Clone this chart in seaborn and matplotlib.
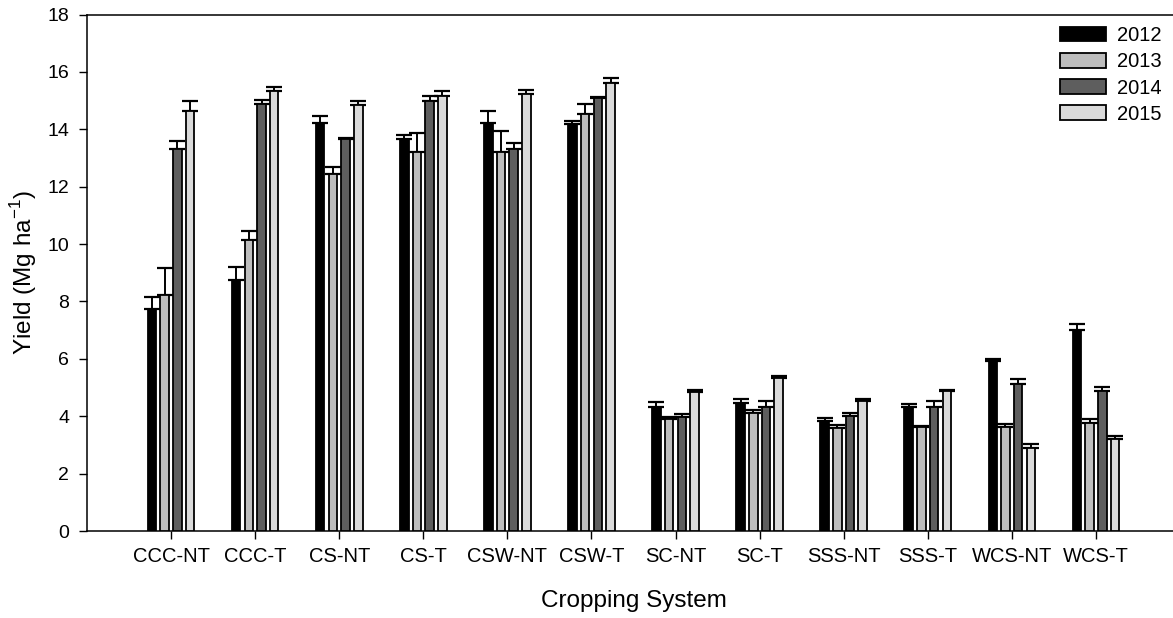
import numpy as np
import pandas as pd
import matplotlib
matplotlib.use("Agg")
import matplotlib.pyplot as plt
import seaborn as sns

categories = ["CCC-NT", "CCC-T", "CS-NT", "CS-T", "CSW-NT", "CSW-T",
              "SC-NT", "SC-T", "SSS-NT", "SSS-T", "WCS-NT", "WCS-T"]
years = ["2012", "2013", "2014", "2015"]

yield_2012 = [7.75, 8.76, 14.23, 13.65, 14.23, 14.20, 4.32, 4.45, 3.85, 4.32, 5.94, 7.00]
yield_2013 = [8.21, 10.14, 12.45, 13.22, 13.22, 14.53, 3.92, 4.10, 3.60, 3.62, 3.62, 3.77]
yield_2014 = [13.30, 14.88, 13.65, 15.00, 13.32, 15.09, 3.97, 4.31, 4.02, 4.32, 5.14, 4.87]
yield_2015 = [14.62, 15.32, 14.83, 15.15, 15.23, 15.62, 4.83, 5.32, 4.52, 4.87, 2.90, 3.20]

err_2012 = [0.40, 0.44, 0.25, 0.16, 0.39, 0.09, 0.17, 0.15, 0.08, 0.11, 0.07, 0.23]
err_2013 = [0.97, 0.32, 0.23, 0.66, 0.71, 0.35, 0.07, 0.11, 0.10, 0.04, 0.12, 0.12]
err_2014 = [0.29, 0.14, 0.04, 0.16, 0.20, 0.03, 0.10, 0.21, 0.10, 0.21, 0.15, 0.14]
err_2015 = [0.35, 0.14, 0.14, 0.17, 0.14, 0.18, 0.08, 0.09, 0.09, 0.06, 0.12, 0.12]

colors = ["#000000", "#bdbdbd", "#5e5e5e", "#dadada"]

values = [yield_2012, yield_2013, yield_2014, yield_2015]
errors = [err_2012, err_2013, err_2014, err_2015]

df = pd.DataFrame({
    "Cropping System": np.repeat([categories], 4, axis=0).ravel(),
    "Year": np.repeat(years, len(categories)),
    "Yield": np.concatenate(values),
})

sns.set_style("ticks")
plt.rcParams["font.family"] = ["Liberation Sans", "DejaVu Sans"]
plt.rcParams.update({"text.color": "black", "axes.labelcolor": "black",
                     "xtick.color": "black", "ytick.color": "black",
                     "axes.edgecolor": "black"})

fig = plt.figure(figsize=(11.73, 6.18), dpi=100)
ax = fig.add_axes([87 / 1173, 87 / 618, 1093 / 1173, 516.5 / 618])

sns.barplot(data=df, x="Cropping System", y="Yield", hue="Year",
            order=categories, hue_order=years,
            palette=dict(zip(years, colors)),
            width=0.604, gap=0.33, edgecolor="black", linewidth=1.3,
            errorbar=None, ax=ax, zorder=3)

for cont, err in zip(ax.containers, errors):
    xs = [p.get_x() + p.get_width() / 2 for p in cont.patches]
    tops = [p.get_height() for p in cont.patches]
    ax.errorbar(xs, tops, yerr=[np.zeros(len(err)), err], fmt="none",
                ecolor="black", elinewidth=1.4, capsize=5.6, capthick=1.6,
                zorder=2)

ax.set_xlim(-1, 12)
ax.set_ylim(0, 18)
ax.set_yticks(np.arange(0, 19, 2))
ax.set_xlabel("Cropping System", fontsize=17.5, labelpad=17)
ax.set_ylabel(r"Yield (Mg ha$^{\mathregular{-1}}$)", fontsize=17.5, labelpad=6)
ax.tick_params(axis="x", labelsize=14.5, length=5.5, width=1.0, pad=6,
               direction="out", colors="black")
ax.tick_params(axis="y", labelsize=14, length=5.8, width=1.0, pad=7,
               direction="out", colors="black")

for s in ["left", "top", "bottom"]:
    ax.spines[s].set_visible(True)
    ax.spines[s].set_linewidth(1.1)
    ax.spines[s].set_color("black")
ax.spines["right"].set_visible(False)

leg = ax.legend(loc="upper right", bbox_to_anchor=(1170 / 1173, 1 - 18 / 618),
                bbox_transform=fig.transFigure, frameon=False, fontsize=14.5,
                handlelength=2.3, handleheight=0.75, handletextpad=0.55,
                labelspacing=0.36, borderaxespad=0, title=None)
for h in leg.legend_handles:
    h.set_edgecolor("black")
    h.set_linewidth(1.3)
for t in leg.get_texts():
    t.set_color("black")

fig.savefig("out.png", dpi=100)
